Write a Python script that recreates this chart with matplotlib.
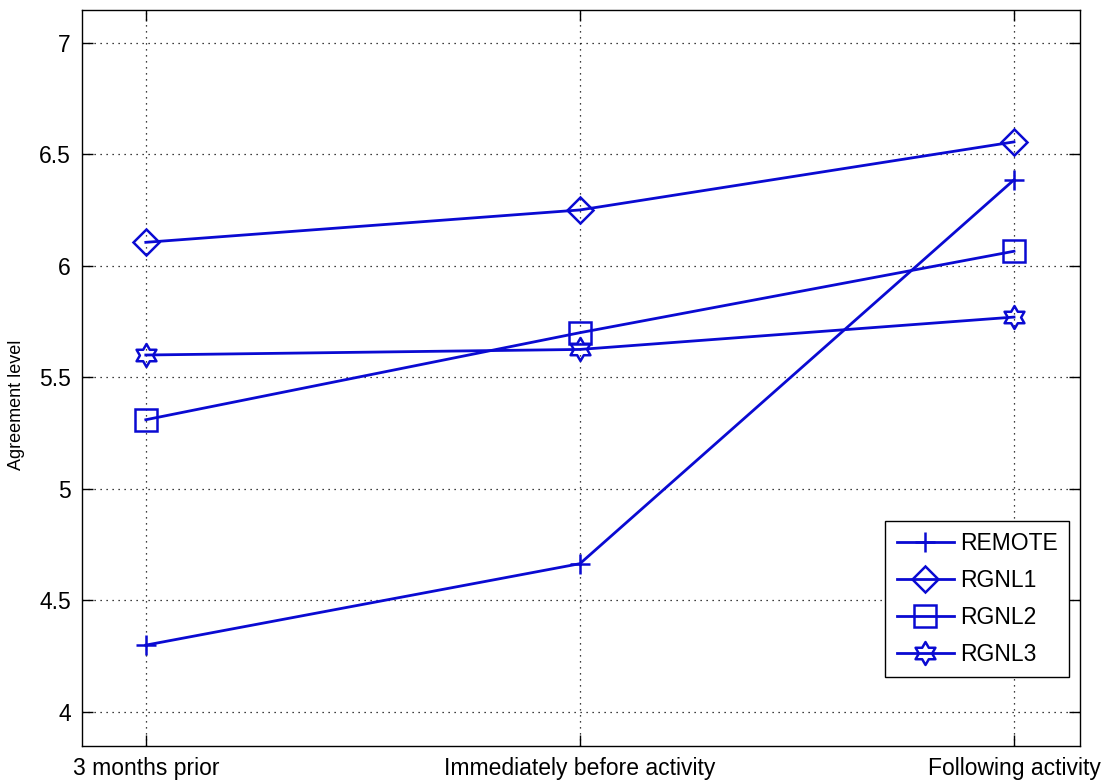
import numpy as np
import matplotlib
matplotlib.use("Agg")
import matplotlib.pyplot as plt
from matplotlib.path import Path

categories = ["3 months prior", "Immediately before activity", "Following activity"]
remote = [4.30, 4.665, 6.385]
rgnl1 = [6.105, 6.25, 6.555]
rgnl2 = [5.31, 5.70, 6.065]
rgnl3 = [5.60, 5.625, 5.77]
series_names = ["REMOTE", "RGNL1", "RGNL2", "RGNL3"]
yticks = [4, 4.5, 5, 5.5, 6, 6.5, 7]
ytick_labels = ["4", "4.5", "5", "5.5", "6", "6.5", "7"]

plt.rcParams['font.family'] = ['Liberation Sans', 'DejaVu Sans']

# six-pointed star (hexagram) marker
ang = np.deg2rad(90 + 30 * np.arange(12))
rad = np.where(np.arange(12) % 2 == 0, 1.0, 1 / np.sqrt(3))
verts = np.column_stack([rad * np.cos(ang), rad * np.sin(ang)])
verts = np.vstack([verts, verts[:1]])
codes = [Path.MOVETO] + [Path.LINETO] * 11 + [Path.CLOSEPOLY]
hexagram = Path(verts, codes)

fig = plt.figure(figsize=(11.12, 7.81), dpi=100)
ax = fig.add_axes([82 / 1112, 1 - 746 / 781, (1080 - 82) / 1112, (746 - 10) / 781])

x = np.arange(1, len(categories) + 1)
color = '#0a0ad2'
lw = 2.0
mew = 1.8
ax.plot(x, remote, color=color, lw=lw, marker='+', ms=14.5, mew=mew, label=series_names[0])
ax.plot(x, rgnl1, color=color, lw=lw, marker='D', ms=13.5, mew=mew, mfc='none', label=series_names[1])
ax.plot(x, rgnl2, color=color, lw=lw, marker='s', ms=15.5, mew=mew, mfc='none', label=series_names[2])
ax.plot(x, rgnl3, color=color, lw=lw, marker=hexagram, ms=16.5, mew=mew, mfc='none', label=series_names[3])

ax.set_xlim(0.853, 3.152)
ax.set_ylim(3.848, 7.146)
ax.set_xticks(x)
ax.set_xticklabels(categories)
ax.set_yticks(yticks)
ax.set_yticklabels(ytick_labels)
ax.tick_params(direction='in', length=8, width=1, top=True, right=True,
               labelsize=16.5, pad=8, colors='black')
ax.tick_params(axis='x', pad=8)
for s in ax.spines.values():
    s.set_linewidth(1.0)
ax.grid(True, color='black', linestyle=(0, (1, 3.8)), linewidth=0.9)

fig.text(17 / 1112, 1 - 405 / 781, "Agreement level", rotation=90,
         ha='center', va='center', fontsize=13)

leg = ax.legend(loc='upper right', bbox_to_anchor=(1069 / 1112, 1 - 521 / 781),
                bbox_transform=fig.transFigure, borderaxespad=0, fancybox=False,
                framealpha=1, edgecolor='black', fontsize=16.5, handlelength=2.5,
                handletextpad=0.25, labelspacing=0.6, borderpad=0.5)
leg.get_frame().set_linewidth(1.0)

fig.savefig("out.png", dpi=100)
